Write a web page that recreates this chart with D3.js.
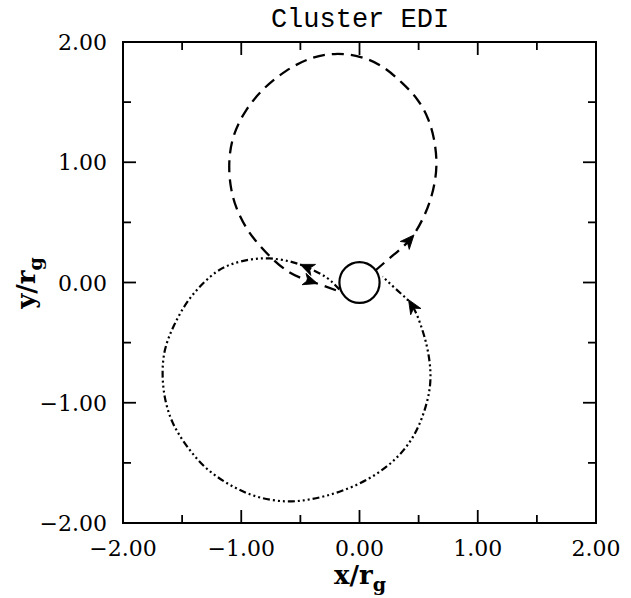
<!DOCTYPE html>
<html>
<head>
<meta charset="utf-8">
<script src="https://cdn.jsdelivr.net/npm/d3@7/dist/d3.min.js"></script>
<style>
html,body{margin:0;padding:0;background:#fff;}
svg{display:block;}
</style>
</head>
<body>
<svg id="chart" width="631" height="598"></svg>
<script>
// ---- data ----
const titleText = "Cluster EDI";
const majorTicks = [-2, -1, 0, 1, 2];
const minorTicks = [-1.5, -0.5, 0.5, 1.5];
const tickLabels = ["\u22122.00", "\u22121.00", "0.00", "1.00", "2.00"];

// dashed trajectory (upper loop), starts at the small circle's right side
const dashedX = [0.135, 0.27, 0.42, 0.53, 0.60, 0.64, 0.65, 0.63, 0.58, 0.49, 0.36, 0.20, 0.01, -0.21, -0.42, -0.62, -0.81, -0.96, -1.06, -1.10, -1.09, -1.04, -0.96, -0.88, -0.76, -0.59, -0.406, -0.17];
const dashedY = [0.10, 0.215, 0.35, 0.52, 0.69, 0.86, 1.02, 1.19, 1.36, 1.52, 1.66, 1.79, 1.875, 1.90, 1.86, 1.76, 1.61, 1.43, 1.23, 1.02, 0.81, 0.62, 0.46, 0.35, 0.22, 0.083, 0.008, -0.075];

// dash-dot trajectory (lower loop), starts at the small circle's left side
const dotX = [-0.17, -0.28, -0.44, -0.59, -0.76, -0.93, -1.10, -1.26, -1.44, -1.57, -1.645, -1.665, -1.645, -1.58, -1.46, -1.30, -1.10, -0.87, -0.62, -0.40, -0.17, 0.08, 0.30, 0.46, 0.56, 0.60, 0.58, 0.53, 0.45, 0.34, 0.195];
const dotY = [-0.058, 0.042, 0.125, 0.175, 0.20, 0.19, 0.145, 0.05, -0.14, -0.36, -0.56, -0.76, -0.96, -1.165, -1.36, -1.54, -1.68, -1.78, -1.82, -1.80, -1.74, -1.63, -1.47, -1.27, -1.03, -0.80, -0.58, -0.39, -0.20, -0.083, 0.05];

// small circle (spacecraft) radius
const circleR = 0.17;

// arrow positions (data coords) on each trajectory
const dashedArrows = [[0.42, 0.34], [-0.42, 0.012]];
const dotArrows = [[-0.44, 0.125], [0.45, -0.20]];

// ---- layout ----
const svg = d3.select("#chart");
const L = 123, R = 596, T = 42, B = 523;
const x = d3.scaleLinear().domain([-2, 2]).range([L, R]);
const y = d3.scaleLinear().domain([-2, 2]).range([B, T]);

const serif = "'DejaVu Serif', serif";

// title
svg.append("text").attr("x", 360).attr("y", 27)
  .attr("text-anchor", "middle")
  .attr("font-family", "'Liberation Mono', monospace")
  .attr("font-size", 27).text(titleText);

// frame
svg.append("rect").attr("x", L).attr("y", T).attr("width", R - L).attr("height", B - T)
  .attr("fill", "none").attr("stroke", "#000").attr("stroke-width", 2);

// ticks (inward, all four sides)
const gT = svg.append("g").attr("stroke", "#000").attr("stroke-width", 1.8);
function ticks(vals, len) {
  vals.forEach(v => {
    gT.append("line").attr("x1", x(v)).attr("x2", x(v)).attr("y1", B).attr("y2", B - len);
    gT.append("line").attr("x1", x(v)).attr("x2", x(v)).attr("y1", T).attr("y2", T + len);
    gT.append("line").attr("y1", y(v)).attr("y2", y(v)).attr("x1", L).attr("x2", L + len);
    gT.append("line").attr("y1", y(v)).attr("y2", y(v)).attr("x1", R).attr("x2", R - len);
  });
}
ticks(majorTicks.slice(1, -1), 13);
ticks(minorTicks, 8);

// tick labels
majorTicks.forEach((v, i) => {
  svg.append("text").attr("x", x(v)).attr("y", B + 33)
    .attr("text-anchor", "middle").attr("font-family", serif).attr("font-size", 22)
    .text(tickLabels[i]);
  svg.append("text").attr("x", L - 16).attr("y", y(v) + 8)
    .attr("text-anchor", "end").attr("font-family", serif).attr("font-size", 22)
    .text(tickLabels[i]);
});

// axis titles
const xl = svg.append("text").attr("x", 360).attr("y", 584)
  .attr("text-anchor", "middle").attr("font-family", serif).attr("font-size", 26).attr("font-weight", "bold");
xl.append("tspan").text("x/r");
xl.append("tspan").attr("font-size", 19).attr("dy", 7).text("g");

const yl = svg.append("text").attr("transform", "translate(35,283) rotate(-90)")
  .attr("text-anchor", "middle").attr("font-family", serif).attr("font-size", 26).attr("font-weight", "bold");
yl.append("tspan").text("y/r");
yl.append("tspan").attr("font-size", 19).attr("dy", 7).text("g");

// trajectories
const line = d3.line().x(d => x(d[0])).y(d => y(d[1])).curve(d3.curveNatural);
const dashedPts = dashedX.map((v, i) => [v, dashedY[i]]);
const dotPts = dotX.map((v, i) => [v, dotY[i]]);

const pDashed = svg.append("path").attr("d", line(dashedPts))
  .attr("fill", "none").attr("stroke", "#000").attr("stroke-width", 2.3)
  .attr("stroke-dasharray", "12,7");
const pDot = svg.append("path").attr("d", line(dotPts))
  .attr("fill", "none").attr("stroke", "#000").attr("stroke-width", 2.2)
  .attr("stroke-dasharray", "7,3,2,3,2,3,2,3");

// small circle
svg.append("ellipse").attr("cx", x(0)).attr("cy", y(0))
  .attr("rx", x(circleR) - x(0)).attr("ry", y(0) - y(circleR))
  .attr("fill", "none").attr("stroke", "#000").attr("stroke-width", 2.2);

// arrowheads
function addArrows(pathSel, arrows) {
  const node = pathSel.node();
  const total = node.getTotalLength();
  arrows.forEach(a => {
    const px = x(a[0]), py = y(a[1]);
    let best = 0, bd = Infinity;
    for (let s = 0; s <= total; s += 0.5) {
      const p = node.getPointAtLength(s);
      const d = (p.x - px) ** 2 + (p.y - py) ** 2;
      if (d < bd) { bd = d; best = s; }
    }
    const p0 = node.getPointAtLength(Math.max(0, best - 3));
    const p1 = node.getPointAtLength(Math.min(total, best + 3));
    const pc = node.getPointAtLength(best);
    const ang = Math.atan2(p1.y - p0.y, p1.x - p0.x) * 180 / Math.PI;
    svg.append("path").attr("d", "M8,0 L-6,-6 L-2,0 L-6,6 Z")
      .attr("fill", "#000").attr("stroke", "#000").attr("stroke-width", 0.8)
      .attr("transform", `translate(${pc.x},${pc.y}) rotate(${ang})`);
  });
}
addArrows(pDashed, dashedArrows);
addArrows(pDot, dotArrows);
</script>
</body>
</html>
